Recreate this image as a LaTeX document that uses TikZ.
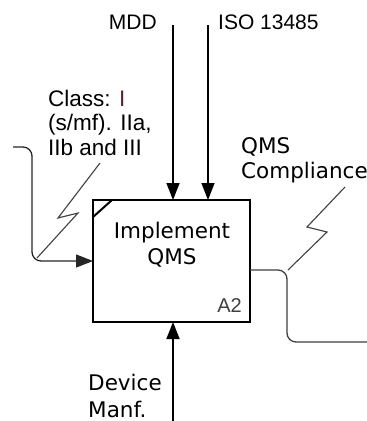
\documentclass[tikz,border=0pt]{standalone}
\usepackage{fontspec}
\setmainfont{Liberation Sans}
\newfontfamily\dvsans{DejaVu Sans}
\usetikzlibrary{arrows.meta,calc}
\begin{document}
\begin{tikzpicture}[x=1pt,y=-1pt,
  lbl/.style={inner sep=0pt, text=black, font=\fontsize{21}{25}\selectfont},
  cls/.style={inner sep=0pt, text=black, font=\fontsize{22.5}{25}\selectfont},
  lblw/.style={inner sep=0pt, text=black, font=\dvsans\fontsize{21.5}{26}\selectfont},
  tip/.style={-{Triangle[length=17pt,width=13pt]}},
  ctl/.style={line width=1.5pt, draw=black, tip},
  conn/.style={line width=1.3pt, draw=black!75, rounded corners=9pt},
  squig/.style={line width=1.1pt, draw=black!75},
  actbox/.style={draw, line width=2.8pt, minimum width=157pt, minimum height=122pt, inner sep=0pt, outer sep=0pt}]
\useasboundingbox (0,0) rectangle (367,421);
\fill[white] (0,0) rectangle (367,421);
% activity box
\node[actbox] (box) at (171.5,261) {};
\draw[line width=2pt] (box.north west) ++(0,17) -- ++(19,-17);
\node[lblw, anchor=base] (impl) at (172,238) {Implement};
\node[lblw, anchor=base] (qms) at (172,264) {QMS};
\node[lbl, font=\fontsize{20}{24}\selectfont, text=black!75, anchor=base east] (a2) at (242,312) {A2};
% controls
\node[lbl, anchor=base east] (mdd) at (157,29) {MDD};
\node[lbl, anchor=base west] (iso) at (218,29) {ISO 13485};
\coordinate (mddtop) at (173,25);
\coordinate (isotop) at (208,25);
\draw[ctl] (mddtop) -- (mddtop |- box.north);
\draw[ctl] (isotop) -- (isotop |- box.north);
% mechanism
\coordinate (devbot) at (173,421);
\draw[ctl] (devbot) -- (devbot |- box.south);
\node[lblw, anchor=base west] (dev1) at (88,390) {Device};
\node[lblw, anchor=base west] (dev2) at (88,417) {Manf.};
% input
\coordinate (instart) at (13,147);
\draw[conn, draw=black!85, tip] (instart) -- ++(19,0) |- (box.west);
\node[cls, anchor=base west] (cl1) at (48,106) {Class: {\color[HTML]{5a2424}I}};
\node[cls, anchor=base west] (cl2) at (48,130.5) {(s/mf). IIa,};
\node[cls, anchor=base west] (cl3) at (48,155) {IIb and III};
\coordinate (sq1a) at (100,163);
\coordinate (sq1b) at (37,258);
\draw[squig] (sq1a) -- (58,218) -- (78,213) -- (sq1b);
% output
\coordinate (outend) at (367,342);
\draw[conn] ($(box.east)+(0,9)$) -- (287,270) |- (outend);
\node[lblw, anchor=base west] (qc1) at (241,153) {QMS};
\node[lblw, anchor=base west] (qc2) at (241,178) {Compliance};
\coordinate (sq2a) at (345,187);
\coordinate (sq2b) at (288,270);
\draw[squig] (sq2a) -- (307,227) -- (327,232) -- (sq2b);
\end{tikzpicture}
\end{document}
